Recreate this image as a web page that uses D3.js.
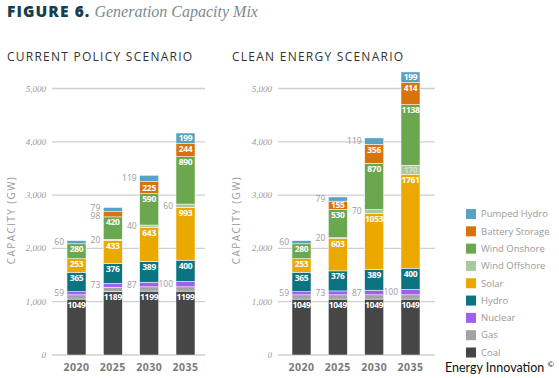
<!DOCTYPE html>
<html><head><meta charset="utf-8">
<script src="https://cdn.jsdelivr.net/npm/d3@7"></script>
<style>body{margin:0;background:#fff}svg{display:block}</style>
</head><body>
<script>
// ---- data ----
const categories = ["2020","2025","2030","2035"];
const seriesNames = ["Coal","Gas","Nuclear","Hydro","Solar","Wind Offshore","Wind Onshore","Battery Storage","Pumped Hydro"];
const seriesColors = ["#464646","#a3a3a3","#9d60f2","#0c7381","#eba900","#a9c8a0","#6ba74e","#d8730c","#5aa2c1"];
const yTicks = [0,1000,2000,3000,4000,5000];
const unlabeledSeries = ["Gas"];

// Current Policy Scenario
const cpCoal     = [1049,1189,1199,1199];
const cpGas      = [80,80,80,80];
const cpNuclear  = [59,73,87,100];
const cpHydro    = [365,376,389,400];
const cpSolar    = [253,433,643,993];
const cpOffshore = [0,20,40,60];
const cpOnshore  = [280,420,590,890];
const cpBattery  = [0,98,225,244];
const cpPumped   = [60,79,119,199];

// Clean Energy Scenario
const ceCoal     = [1049,1049,1049,1049];
const ceGas      = [80,80,80,80];
const ceNuclear  = [59,73,87,100];
const ceHydro    = [365,376,389,400];
const ceSolar    = [253,603,1053,1761];
const ceOffshore = [0,20,70,170];
const ceOnshore  = [280,530,870,1138];
const ceBattery  = [0,155,356,414];
const cePumped   = [60,79,119,199];

const W = 559, H = 378;
const svg = d3.select("body").append("svg").attr("width",W).attr("height",H);
const sans = "'Open Sans', Roboto, sans-serif";
const serif = "'Liberation Serif', 'DejaVu Serif', serif";

// Title
const title = svg.append("text").attr("x",7).attr("y",17);
title.append("tspan").text("FIGURE 6.").attr("font-family",sans).attr("font-weight",800)
  .attr("font-size",15.5).attr("fill","#143d4d").attr("letter-spacing",1.1);
title.append("tspan").text(" Generation Capacity Mix").attr("font-family",serif).attr("font-style","italic")
  .attr("font-size",16).attr("fill","#7d8a90");

function buildRows(arrs){
  return categories.map((c,i)=>{
    const r = {cat:c};
    seriesNames.forEach((s,j)=> r[s] = arrs[j][i]);
    return r;
  });
}

const y = d3.scaleLinear().domain([0,5000]).range([355,88.5]);

function drawPanel(opts){
  const g = svg.append("g");
  const rows = buildRows(opts.arrays);
  const x = d3.scalePoint().domain(categories).range(opts.xRange);
  const bw = 19;

  g.append("text").attr("x",opts.subX).attr("y",61).text(opts.subtitle)
    .attr("font-family",sans).attr("font-size",12).attr("fill","#333").attr("letter-spacing",1.25);

  // gridlines
  g.selectAll("line.grid").data(yTicks).join("line")
    .attr("x1",opts.gridX[0]).attr("x2",opts.gridX[1])
    .attr("y1",d=>y(d)).attr("y2",d=>y(d)).attr("stroke","#cfcfcf").attr("stroke-width",1.3);
  g.selectAll("text.ytick").data(yTicks).join("text")
    .attr("x",opts.tickX).attr("y",d=>y(d)+3).attr("text-anchor","end")
    .attr("font-family",serif).attr("font-style","italic").attr("font-size",9).attr("fill","#9a9a9a")
    .text(d=>d3.format(",")(d));
  g.append("text").attr("transform",`translate(${opts.axisTitleX},220) rotate(-90)`)
    .attr("text-anchor","middle").attr("font-family",sans).attr("font-size",10)
    .attr("letter-spacing",1.4).attr("fill","#9a9a9a").text("CAPACITY (GW)");

  const stack = d3.stack().keys(seriesNames)(rows);
  const layers = g.selectAll("g.layer").data(stack).join("g")
    .attr("fill",(d,i)=>seriesColors[i]);
  layers.selectAll("rect").data(d=>d.filter(p=>p[1]-p[0]>0)).join("rect")
    .attr("x",d=>x(d.data.cat)-bw/2).attr("width",bw)
    .attr("y",d=>y(d[1])).attr("height",d=>y(d[0])-y(d[1]))
    .attr("stroke","#fff").attr("stroke-width",0.5);

  // labels
  categories.forEach((c,ci)=>{
    const outside = [];
    stack.forEach((layer,si)=>{
      const name = seriesNames[si];
      const p = layer[ci];
      const v = p[1]-p[0];
      if (v<=0 || unlabeledSeries.includes(name)) return;
      if (v >= 150) {
        const h = y(p[0]) - y(p[1]);
        const by = h < 12 ? (y(p[0])+y(p[1]))/2 + 3 : y(p[1]) + 8.5;
        g.append("text").attr("x",x(c)).attr("y",by).attr("text-anchor","middle")
          .attr("font-family",sans).attr("font-weight",700).attr("font-size",8.5)
          .attr("letter-spacing",-0.3)
          .attr("fill", name==="Wind Offshore" ? "#d3dece" : "#fff").text(v);
      } else {
        outside.push({v, cy:(y(p[0])+y(p[1]))/2});
      }
    });
    outside.sort((a,b)=>a.cy-b.cy);
    for (let k=1;k<outside.length;k++){
      const gap = outside[k].cy - outside[k-1].cy;
      if (gap < 8.5){ const d=(8.5-gap)/2; outside[k-1].cy-=d; outside[k].cy+=d; }
    }
    outside.forEach(o=>{
      g.append("text").attr("x",x(c)-bw/2-3).attr("y",o.cy+3).attr("text-anchor","end")
        .attr("font-family",sans).attr("font-size",8.5).attr("fill","#9a9a9a").text(o.v);
    });
  });

  g.selectAll("text.xlab").data(categories).join("text")
    .attr("x",d=>x(d)).attr("y",371).attr("text-anchor","middle")
    .attr("font-family",sans).attr("font-weight",700).attr("font-size",10.5)
    .attr("letter-spacing",0.5).attr("fill","#7a7a7a").text(d=>d);
}

drawPanel({subtitle:"CURRENT POLICY SCENARIO", subX:7, xRange:[76.5,185.5], gridX:[52,205], tickX:46, axisTitleX:15,
  arrays:[cpCoal,cpGas,cpNuclear,cpHydro,cpSolar,cpOffshore,cpOnshore,cpBattery,cpPumped]});
drawPanel({subtitle:"CLEAN ENERGY SCENARIO", subX:232, xRange:[301.5,410.5], gridX:[278,435], tickX:272, axisTitleX:240,
  arrays:[ceCoal,ceGas,ceNuclear,ceHydro,ceSolar,ceOffshore,ceOnshore,ceBattery,cePumped]});

// legend (top to bottom reversed order)
const legendItems = seriesNames.map((n,i)=>({n,c:seriesColors[i]})).reverse();
const lg = svg.append("g");
const ly = d3.scalePoint().domain(legendItems.map(d=>d.n)).range([213.5,352]);
lg.selectAll("rect").data(legendItems).join("rect")
  .attr("x",466).attr("y",d=>ly(d.n)-4.5).attr("width",10).attr("height",10).attr("fill",d=>d.c);
lg.selectAll("text").data(legendItems).join("text")
  .attr("x",481).attr("y",d=>ly(d.n)+3.8).attr("font-family",sans).attr("font-size",9.5)
  .attr("fill","#9a9a9a").text(d=>d.n);

const credit = svg.append("text").attr("x",445).attr("y",372).attr("font-family","Lato, 'Open Sans', sans-serif")
  .attr("font-size",12.5).attr("fill","#111");
credit.append("tspan").text("Energy Innovation ");
credit.append("tspan").text("©").attr("font-size",8).attr("dy",-5);
</script>
</body></html>
